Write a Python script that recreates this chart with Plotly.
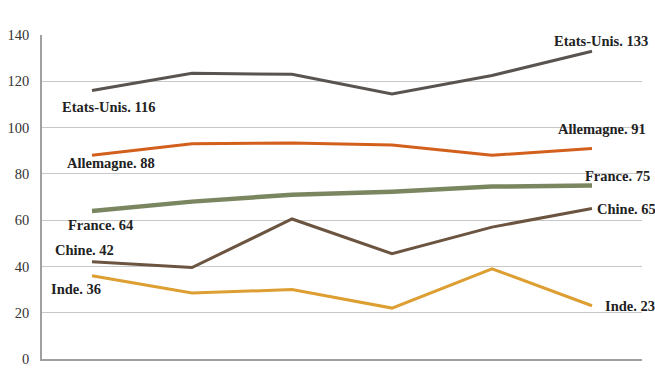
import plotly.graph_objects as go

periods = [1, 2, 3, 4, 5, 6]
series_names = ["Etats-Unis", "Allemagne", "France", "Chine", "Inde"]
etats_unis = [116, 123.5, 123, 114.5, 122.5, 133]
allemagne = [88, 93, 93.3, 92.5, 88, 91]
france = [64, 68, 71, 72.3, 74.5, 75]
chine = [42, 39.5, 60.5, 45.5, 57, 65]
inde = [36, 28.5, 30, 22, 39, 23]
y_ticks = [0, 20, 40, 60, 80, 100, 120, 140]

values = [etats_unis, allemagne, france, chine, inde]
colors = ["#5a5450", "#d2601c", "#7a8660", "#6b5440", "#dd9e32"]
widths = [3, 3, 4.5, 3, 3]

# label placement: (xanchor, xshift, yshift)
start_pos = [("left", -32, -16), ("left", -27, -8), ("left", -26, -14), ("left", -39, 12), ("left", -43, -13)]
end_pos = [("right", 58, 10), ("right", 56, 19), ("right", 60, 9), ("left", 3, 0), ("left", 11, 0)]

fig = go.Figure()
serif = "Liberation Serif, DejaVu Serif, serif"
font_lab = dict(family=serif, size=14.5, color="#222222")
for name, v, c, w, sp, ep in zip(series_names, values, colors, widths, start_pos, end_pos):
    fig.add_trace(go.Scatter(x=periods, y=v, mode="lines", line=dict(color=c, width=w),
                             name=name, showlegend=False, hoverinfo="skip"))
    fig.add_annotation(x=periods[0], y=v[0], text=f"<b>{name}. {round(v[0])}</b>",
                       showarrow=False, xanchor=sp[0], xshift=sp[1], yshift=sp[2], font=font_lab)
    fig.add_annotation(x=periods[-1], y=v[-1], text=f"<b>{name}. {round(v[-1])}</b>",
                       showarrow=False, xanchor=ep[0], xshift=ep[1], yshift=ep[2], font=font_lab)

fig.update_layout(
    width=655, height=368,
    margin=dict(l=42, r=13, t=35, b=9, autoexpand=False),
    paper_bgcolor="white", plot_bgcolor="white",
    xaxis=dict(range=[0.5, 6.5], showticklabels=False, showgrid=False, zeroline=False,
               showline=True, linecolor="#a0a0a0", linewidth=1.5, ticks="", automargin=False),
    yaxis=dict(range=[0, 140], tickvals=y_ticks, showgrid=True, gridcolor="#c8c8c8",
               gridwidth=1.3, zeroline=False, showline=True, linecolor="#a0a0a0",
               linewidth=1.5, ticks="", ticklabelstandoff=8, automargin=False,
               tickfont=dict(family=serif, size=14.5, color="#333")),
)
fig.write_html(
    "out.html",
    config={"displayModeBar": False},
    post_script="document.body.style.margin='0';document.body.style.overflow='hidden';",
)
